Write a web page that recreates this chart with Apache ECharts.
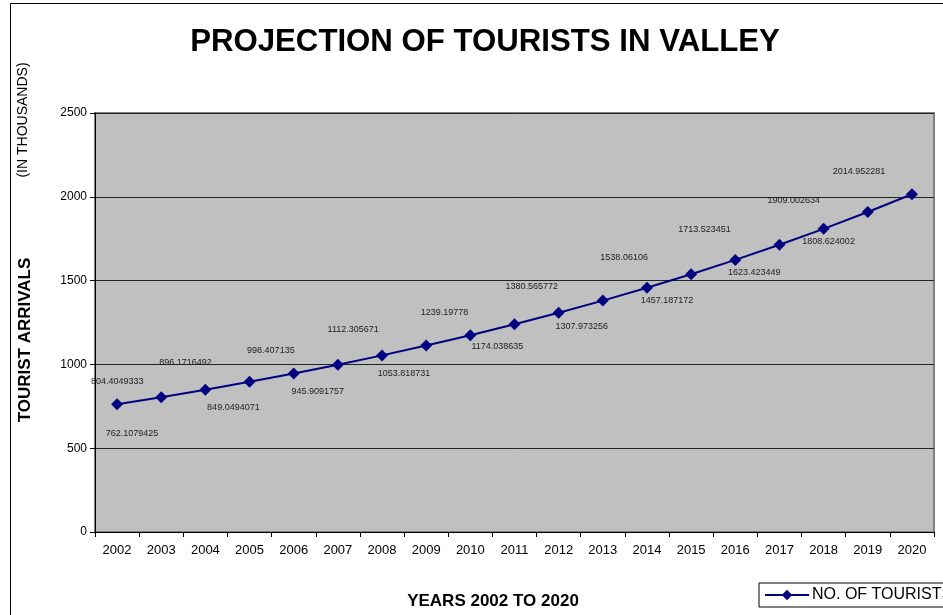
<!DOCTYPE html>
<html>
<head>
<meta charset="utf-8">
<title>Projection of Tourists in Valley</title>
<script src="https://cdn.jsdelivr.net/npm/echarts@6/dist/echarts.min.js"></script>
<style>
  html, body { margin: 0; padding: 0; background: #ffffff; }
  #chart { width: 943px; height: 615px; }
</style>
</head>
<body>
<div id="chart"></div>
<script>
// Projected tourist arrivals (in thousands), 2002 to 2020
const years = ['2002', '2003', '2004', '2005', '2006', '2007', '2008', '2009', '2010', '2011',
               '2012', '2013', '2014', '2015', '2016', '2017', '2018', '2019', '2020'];
const tourists = [762.1079425, 804.4049333, 849.0494071, 896.1716492, 945.9091757, 998.407135,
                  1053.818731, 1112.305671, 1174.038635, 1239.19778, 1307.973256, 1380.565772,
                  1457.187172, 1538.06106, 1623.423449, 1713.523451, 1808.624002, 1909.002634,
                  2014.952281];
const yTicks = [0, 500, 1000, 1500, 2000, 2500];

// Where each value label sits relative to its marker (pixels)
const labelOffsets = [
  [15, 29], [-44, -16], [28, 18], [-64, -19], [24, 18], [-67, -14], [22, 18], [-73, -16],
  [27, 11], [-70, -12], [23, 14], [-71, -14], [20, 13], [-67, -17], [19, 13], [-75, -15],
  [5, 13], [-74, -12], [-53, -23]
];

const FONT = 'Liberation Sans, Arial, sans-serif';
const chart = echarts.init(document.getElementById('chart'), null, { renderer: 'canvas' });

const seriesData = tourists.map((v, i) => ({
  value: v,
  label: { offset: labelOffsets[i] }
}));

chart.setOption({
  backgroundColor: '#ffffff',
  animation: false,
  title: {
    text: 'PROJECTION OF TOURISTS IN VALLEY',
    left: 480,
    textAlign: 'center',
    top: 22,
    textStyle: { fontFamily: FONT, fontSize: 31.2, fontWeight: 'bold', color: '#000' }
  },
  legend: {
    left: 759,
    top: 583,
    padding: [4, 40, 4, 5],
    itemWidth: 44,
    itemHeight: 13,
    itemGap: 0,
    borderColor: '#000',
    borderWidth: 1,
    backgroundColor: '#fff',
    textStyle: { fontFamily: FONT, fontSize: 16, color: '#000', padding: [0, 0, 0, -2] },
    data: ['NO. OF TOURISTS']
  },
  grid: {
    left: 95, top: 113, right: 9, bottom: 83,
    show: true,
    backgroundColor: '#c0c0c0',
    borderColor: '#808080',
    borderWidth: 2
  },
  xAxis: {
    type: 'category',
    data: years,
    boundaryGap: true,
    axisLine: { show: true, lineStyle: { color: '#000', width: 1 } },
    axisTick: { show: true, alignWithLabel: false, length: 5, lineStyle: { color: '#000' } },
    axisLabel: { fontFamily: FONT, fontSize: 13, color: '#000', margin: 12, interval: 0 },
    splitLine: { show: false }
  },
  yAxis: {
    type: 'value',
    min: yTicks[0],
    max: yTicks[yTicks.length - 1],
    interval: yTicks[1] - yTicks[0],
    axisLine: { show: true, lineStyle: { color: '#000', width: 1 } },
    axisTick: { show: true, length: 5, lineStyle: { color: '#000' } },
    axisLabel: { fontFamily: FONT, fontSize: 12, color: '#000', margin: 8, formatter: v => String(v) },
    splitLine: { show: true, lineStyle: { color: '#222', width: 1 } }
  },
  graphic: [
    {
      type: 'rect',
      silent: true,
      shape: { x: 10.5, y: 3.5, width: 1200, height: 900 },
      style: { fill: 'none', stroke: '#000', lineWidth: 1 }
    },
    {
      type: 'text',
      silent: true,
      x: 25, y: 340,
      rotation: Math.PI / 2,
      style: {
        text: 'TOURIST ARRIVALS',
        fontFamily: FONT, fontSize: 17, fontWeight: 'bold', fill: '#000',
        align: 'center', verticalAlign: 'middle'
      }
    },
    {
      type: 'text',
      silent: true,
      x: 23, y: 120,
      rotation: Math.PI / 2,
      style: {
        text: '(IN THOUSANDS)',
        fontFamily: FONT, fontSize: 14, fill: '#000',
        align: 'center', verticalAlign: 'middle'
      }
    },
    {
      type: 'text',
      silent: true,
      x: 493, y: 601,
      style: {
        text: 'YEARS 2002 TO 2020',
        fontFamily: FONT, fontSize: 17, fontWeight: 'bold', fill: '#000',
        align: 'center', verticalAlign: 'middle'
      }
    }
  ],
  series: [{
    name: 'NO. OF TOURISTS',
    type: 'line',
    data: seriesData,
    symbol: 'diamond',
    symbolSize: 12,
    lineStyle: { color: '#000080', width: 2 },
    itemStyle: { color: '#000080' },
    label: {
      show: true,
      position: 'inside',
      fontFamily: FONT,
      fontSize: 9,
      color: '#222',
      formatter: p => String(p.value)
    },
    emphasis: { disabled: true }
  }]
});
</script>
</body>
</html>
